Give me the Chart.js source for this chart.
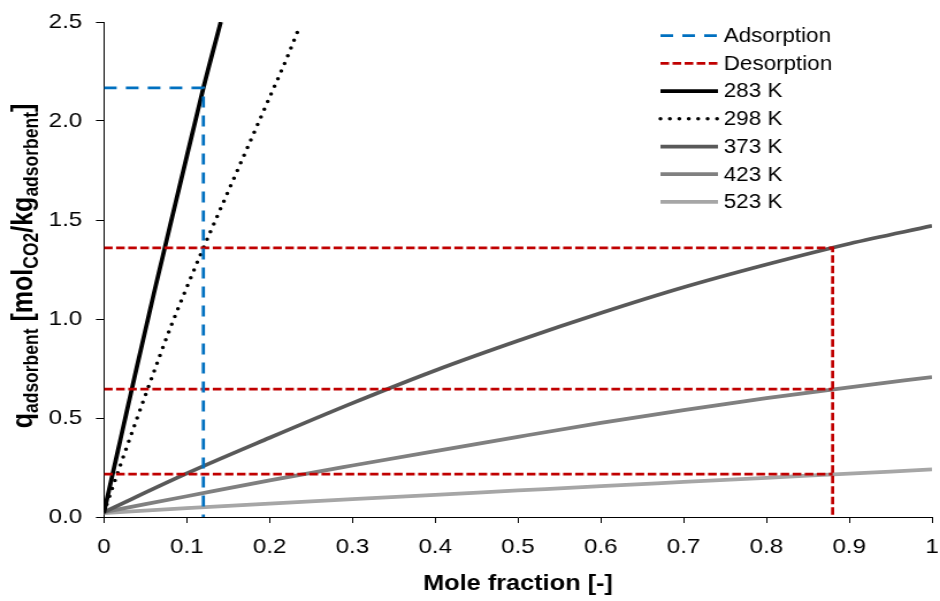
<!DOCTYPE html>
<html>
<head>
<meta charset="utf-8">
<script src="https://cdn.jsdelivr.net/npm/chart.js@4.4.1/dist/chart.umd.min.js"></script>
<style>
  html, body { margin: 0; padding: 0; background: #fff; overflow: hidden; }
  /* the reference is horizontally stretched, so draw narrow and stretch */
  #wrap { width: 817px; height: 601px; transform: scaleX(1.1506); transform-origin: 0 0; }
</style>
</head>
<body>
<div id="wrap"><canvas id="chart" width="817" height="601"></canvas></div>
<script>
// ---- data ----
const x283 = [0, 0.02, 0.04, 0.06, 0.08, 0.10, 0.12, 0.141];
const q283 = [0.025, 0.395, 0.765, 1.125, 1.475, 1.822, 2.167, 2.5];

const x298 = [0, 0.02, 0.04, 0.06, 0.08, 0.10, 0.12, 0.14, 0.16, 0.18, 0.20, 0.22, 0.237];
const q298 = [0.025, 0.265, 0.50, 0.73, 0.955, 1.16, 1.359, 1.55, 1.74, 1.93, 2.12, 2.31, 2.485];

const xHot = [0, 0.1, 0.2, 0.3, 0.4, 0.5, 0.6, 0.7, 0.8, 0.9, 1.0];
const q373 = [0.025, 0.22, 0.40, 0.575, 0.74, 0.89, 1.03, 1.16, 1.275, 1.38, 1.47];
const q423 = [0.025, 0.105, 0.185, 0.26, 0.333, 0.405, 0.475, 0.54, 0.60, 0.655, 0.707];
const q523 = [0.02, 0.045, 0.068, 0.09, 0.112, 0.134, 0.156, 0.177, 0.198, 0.219, 0.24];

const adsorptionFraction = 0.12;
const adsorptionLoading = 2.167;
const desorptionFraction = 0.88;
const desorptionLoadings = [1.359, 0.646, 0.217];

const xTickValues = [0, 0.1, 0.2, 0.3, 0.4, 0.5, 0.6, 0.7, 0.8, 0.9, 1];
const xTickLabels = ['0', '0.1', '0.2', '0.3', '0.4', '0.5', '0.6', '0.7', '0.8', '0.9', '1'];
const yTickValues = [0, 0.5, 1, 1.5, 2, 2.5];
const yTickLabels = ['0.0', '0.5', '1.0', '1.5', '2.0', '2.5'];

const xTitle = 'Mole fraction [-]';
const yTitleParts = [['q', false], ['adsorbent', true], [' [mol', false], ['CO2', true],
                     ['/kg', false], ['adsorbent', true], [']', false]];

const FONT = '"Liberation Sans", Arial, sans-serif';

function toPoints(xs, ys) {
    return xs.map((x, i) => ({ x: x, y: ys[i] }));
}

function desorptionPoints() {
    const pts = [];
    desorptionLoadings.forEach((q, i) => {
        if (i > 0) pts.push({ x: desorptionFraction, y: null });
        pts.push({ x: 0, y: q });
        pts.push({ x: desorptionFraction, y: q });
        if (i === 0) pts.push({ x: desorptionFraction, y: 0 });
    });
    return pts;
}

// titles with subscripts + legend, drawn on the canvas
const titlesAndLegend = {
    id: 'titlesAndLegend',
    afterDraw(chart) {
        const ctx = chart.ctx;
        const area = chart.chartArea;
        ctx.save();
        ctx.fillStyle = '#000';

        ctx.font = `bold 22px ${FONT}`;
        ctx.textAlign = 'center';
        ctx.textBaseline = 'alphabetic';
        ctx.fillText(xTitle, (area.left + area.right) / 2, 590);

        // y title, rotated
        ctx.save();
        ctx.translate(28, 266);
        ctx.rotate(-Math.PI / 2);
        ctx.textAlign = 'left';
        let total = 0;
        yTitleParts.forEach(([t, sub]) => {
            ctx.font = `bold ${sub ? 17.5 : 25}px ${FONT}`;
            total += ctx.measureText(t).width;
        });
        let pos = -total / 2;
        yTitleParts.forEach(([t, sub]) => {
            ctx.font = `bold ${sub ? 17.5 : 25}px ${FONT}`;
            ctx.fillText(t, pos, sub ? 5 : 0);
            pos += ctx.measureText(t).width;
        });
        ctx.restore();

        // legend
        ctx.font = `19.5px ${FONT}`;
        ctx.textAlign = 'left';
        ctx.textBaseline = 'middle';
        chart.data.datasets.forEach((ds, i) => {
            const y = 35.7 + 27.7 * i;
            ctx.save();
            ctx.strokeStyle = ds.borderColor;
            ctx.lineWidth = ds.borderWidth;
            ctx.lineCap = ds.borderCapStyle || 'butt';
            ctx.setLineDash(ds.borderDash || []);
            ctx.beginPath();
            ctx.moveTo(574, y);
            ctx.lineTo(624, y);
            ctx.stroke();
            ctx.restore();
            ctx.fillText(ds.label, 629, y + 1);
        });
        ctx.restore();
    }
};

new Chart(document.getElementById('chart'), {
    type: 'line',
    data: {
        datasets: [
            {
                label: 'Adsorption',
                data: [{ x: 0, y: adsorptionLoading }, { x: adsorptionFraction, y: adsorptionLoading },
                       { x: adsorptionFraction, y: 0 }],
                borderColor: '#0070C0',
                borderWidth: 2.75,
                borderDash: [11, 8],
            },
            {
                label: 'Desorption',
                data: desorptionPoints(),
                borderColor: '#C00000',
                borderWidth: 2.75,
                borderDash: [7.5, 3],
            },
            {
                label: '283 K',
                data: toPoints(x283, q283),
                borderColor: '#000000',
                borderWidth: 3.75,
                cubicInterpolationMode: 'monotone',
            },
            {
                label: '298 K',
                data: toPoints(x298, q298),
                borderColor: '#000000',
                borderWidth: 3.5,
                borderDash: [0, 8.2],
                borderCapStyle: 'round',
                cubicInterpolationMode: 'monotone',
            },
            {
                label: '373 K',
                data: toPoints(xHot, q373),
                borderColor: '#595959',
                borderWidth: 3.75,
                cubicInterpolationMode: 'monotone',
            },
            {
                label: '423 K',
                data: toPoints(xHot, q423),
                borderColor: '#808080',
                borderWidth: 3.75,
                cubicInterpolationMode: 'monotone',
            },
            {
                label: '523 K',
                data: toPoints(xHot, q523),
                borderColor: '#A6A6A6',
                borderWidth: 3.75,
                cubicInterpolationMode: 'monotone',
            }
        ]
    },
    options: {
        responsive: false,
        animation: false,
        events: [],
        devicePixelRatio: 1,
        layout: { padding: { top: 22, right: 7, left: 0, bottom: 0 } },
        elements: { point: { radius: 0 }, line: { fill: false } },
        plugins: {
            legend: { display: false },
            tooltip: { enabled: false },
        },
        scales: {
            x: {
                type: 'linear',
                min: 0,
                max: 1,
                afterFit: (scale) => {
                    scale.height = 84;
                    scale.paddingLeft = 0;
                    scale.paddingRight = 0;
                },
                afterBuildTicks: (scale) => { scale.ticks = xTickValues.map(v => ({ value: v })); },
                grid: { drawOnChartArea: false, tickLength: 6, color: '#000' },
                border: { display: true, color: '#000', width: 1 },
                ticks: {
                    autoSkip: false,
                    maxRotation: 0,
                    padding: 12,
                    color: '#000',
                    font: { family: FONT, size: 21 },
                    callback: (value, index) => xTickLabels[index],
                },
            },
            y: {
                type: 'linear',
                min: 0,
                max: 2.5,
                afterFit: (scale) => {
                    scale.width = 90.4;
                    scale.paddingTop = 0;
                    scale.paddingBottom = 0;
                },
                afterBuildTicks: (scale) => { scale.ticks = yTickValues.map(v => ({ value: v })); },
                grid: { drawOnChartArea: false, tickLength: 7, color: '#000' },
                border: { display: true, color: '#000', width: 1 },
                ticks: {
                    padding: 12,
                    color: '#000',
                    font: { family: FONT, size: 21 },
                    callback: (value, index) => yTickLabels[index],
                },
            }
        }
    },
    plugins: [titlesAndLegend]
});
</script>
</body>
</html>
